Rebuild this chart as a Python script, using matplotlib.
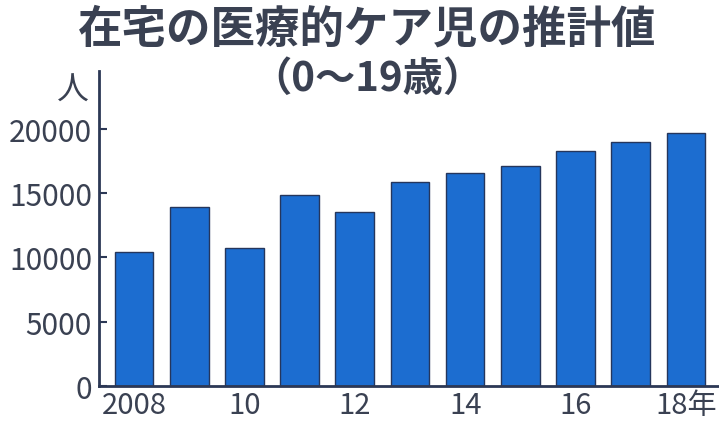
import matplotlib.pyplot as plt

# 在宅の医療的ケア児の推計値
years = [2008, 2009, 2010, 2011, 2012, 2013, 2014, 2015, 2016, 2017, 2018]
counts = [10400, 13950, 10700, 14850, 13550, 15890, 16580, 17080, 18270, 18950, 19710]
xtick_years = [2008, 2010, 2012, 2014, 2016, 2018]
xtick_labels = ['2008', '10', '12', '14', '16', '18年']
yticks = [0, 5000, 10000, 15000, 20000]

txt = '#3a4152'
axis_col = '#2c3855'
num_font = ['Noto Sans CJK JP', 'DejaVu Sans']

fig = plt.figure(figsize=(7.19, 4.31), dpi=100)
ax = fig.add_axes([0.1377, 0.102, 0.8623, 0.731])

ax.bar(years, counts, width=0.70, color='#1c6dd0', edgecolor='#25365c', linewidth=1.0)

ax.set_xlim(2008 - 0.634, 2018 + 0.6)
ax.set_ylim(0, 24500)

ax.set_yticks(yticks)
ax.set_yticklabels([str(v) for v in yticks], family=num_font, fontsize=21.5, color=txt)
ax.set_xticks(xtick_years)
ax.set_xticklabels(xtick_labels, family=num_font, fontsize=21, color=txt)

ax.tick_params(axis='y', direction='in', length=6, width=1.5, color=axis_col, pad=5)
ax.tick_params(axis='x', length=0, pad=3)

for s in ['top', 'right']:
    ax.spines[s].set_visible(False)
for s in ['left', 'bottom']:
    ax.spines[s].set_color(axis_col)
    ax.spines[s].set_linewidth(2)

# unit label
fig.text(73 / 719, 1 - 91 / 431, '人', family='Noto Sans CJK JP', fontsize=23,
         color=txt, ha='center', va='center')

# title
fig.text(367 / 719, 1 - 30 / 431, '在宅の医療的ケア児の推計値', family='Noto Sans CJK JP',
         fontweight='bold', fontsize=32, color=txt, ha='center', va='center')
fig.text(367 / 719, 1 - 79 / 431, '（0〜19歳）', family='Noto Sans CJK JP',
         fontweight='bold', fontsize=29, color=txt, ha='center', va='center')

fig.savefig('out.png', dpi=100)
